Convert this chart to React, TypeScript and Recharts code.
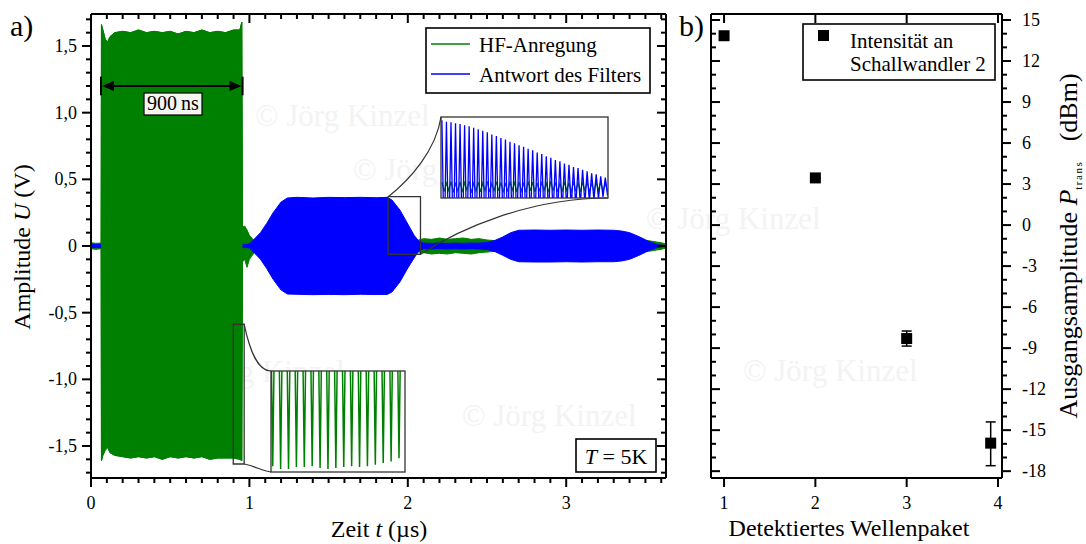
import React from 'react';
import {
  ComposedChart,
  Area,
  XAxis,
  YAxis,
  ReferenceArea,
  LineChart,
  Line,
  ScatterChart,
  Scatter,
  ErrorBar,
} from 'recharts';

const SERIF = '"Liberation Serif", "Times New Roman", serif';
const GREEN = '#008000';
const BLUE = '#0000ff';

// a) scope trace – envelopes of the excitation and the filter response (µs, V)
const timeUs = [
  0, 0.03, 0.064, 0.066, 0.075, 0.09, 0.105, 0.12, 0.15, 0.2, 0.25, 0.3, 0.35, 0.4, 0.45, 0.5,
  0.55, 0.6, 0.65, 0.7, 0.75, 0.8, 0.85, 0.9, 0.94, 0.952, 0.956, 0.97, 0.985, 1.0, 1.03, 1.07,
  1.11, 1.15, 1.2, 1.24, 1.3, 1.4, 1.5, 1.6, 1.7, 1.8, 1.87, 1.9, 1.95, 2.0, 2.04, 2.07, 2.1,
  2.15, 2.2, 2.25, 2.3, 2.35, 2.4, 2.45, 2.5, 2.55, 2.6, 2.65, 2.7, 2.8, 2.9, 3.0, 3.1, 3.2, 3.3,
  3.35, 3.4, 3.46, 3.52, 3.57, 3.6, 3.63,
];
const hfUpper = [
  0.025, 0.02, 0.022, 1.66, 1.62, 1.55, 1.53, 1.57, 1.6, 1.61, 1.6, 1.62, 1.6, 1.61, 1.6, 1.61,
  1.59, 1.61, 1.6, 1.62, 1.6, 1.61, 1.6, 1.62, 1.62, 1.68, 0.14, 0.15, 0.12, 0.08, 0.04, 0.035,
  0.035, 0.035, 0.035, 0.035, 0.035, 0.035, 0.035, 0.035, 0.035, 0.035, 0.035, 0.035, 0.035,
  0.04, 0.04, 0.045, 0.055, 0.05, 0.06, 0.05, 0.055, 0.06, 0.05, 0.055, 0.045, 0.04, 0.04, 0.04,
  0.04, 0.04, 0.04, 0.04, 0.04, 0.04, 0.04, 0.04, 0.04, 0.04, 0.04, 0.03, 0.025, 0.015,
];
const hfLower = [
  -0.02, -0.025, -0.02, -1.61, -1.57, -1.53, -1.51, -1.55, -1.57, -1.58, -1.59, -1.58, -1.59,
  -1.58, -1.6, -1.58, -1.59, -1.58, -1.59, -1.58, -1.6, -1.59, -1.59, -1.59, -1.6, -1.61, -0.12,
  -0.1, -0.16, -0.1, -0.05, -0.035, -0.035, -0.035, -0.035, -0.035, -0.035, -0.035, -0.035,
  -0.035, -0.035, -0.035, -0.035, -0.035, -0.035, -0.04, -0.04, -0.045, -0.05, -0.06, -0.055,
  -0.06, -0.05, -0.055, -0.06, -0.05, -0.045, -0.04, -0.04, -0.04, -0.04, -0.04, -0.04, -0.04,
  -0.04, -0.04, -0.04, -0.04, -0.04, -0.04, -0.04, -0.03, -0.025, -0.015,
];
const filterUpper = [
  0.012, 0.012, 0.012, 0.012, 0.012, 0.012, 0.012, 0.012, 0.012, 0.012, 0.012, 0.012, 0.012,
  0.012, 0.012, 0.012, 0.012, 0.012, 0.012, 0.012, 0.012, 0.012, 0.012, 0.012, 0.012, 0.012,
  0.012, 0.012, 0.012, 0.015, 0.05, 0.1, 0.17, 0.25, 0.33, 0.36, 0.365, 0.36, 0.365, 0.363,
  0.365, 0.362, 0.365, 0.345, 0.27, 0.165, 0.08, 0.035, 0.022, 0.02, 0.022, 0.02, 0.022, 0.02,
  0.022, 0.022, 0.026, 0.042, 0.068, 0.1, 0.118, 0.12, 0.118, 0.12, 0.118, 0.12, 0.118, 0.112,
  0.1, 0.07, 0.035, 0.012, 0.006, 0.004,
];
const filterLower = [
  -0.012, -0.012, -0.012, -0.012, -0.012, -0.012, -0.012, -0.012, -0.012, -0.012, -0.012, -0.012,
  -0.012, -0.012, -0.012, -0.012, -0.012, -0.012, -0.012, -0.012, -0.012, -0.012, -0.012, -0.012,
  -0.012, -0.012, -0.012, -0.012, -0.012, -0.015, -0.05, -0.1, -0.17, -0.25, -0.33, -0.36,
  -0.362, -0.365, -0.363, -0.365, -0.362, -0.364, -0.363, -0.345, -0.27, -0.165, -0.09, -0.035,
  -0.02, -0.022, -0.02, -0.022, -0.02, -0.022, -0.02, -0.022, -0.026, -0.042, -0.07, -0.1,
  -0.118, -0.12, -0.12, -0.118, -0.12, -0.118, -0.118, -0.112, -0.1, -0.07, -0.035, -0.012,
  -0.006, -0.004,
];

// zoom windows on the trace (µs, V)
const burstWindow = { t0: 0.898, t1: 0.967, v0: -1.635, v1: -0.587 };
const decayWindow = { t0: 1.876, t1: 2.08, v0: -0.062, v1: 0.37 };

// inset values, one entry per oscillation
const burstTroughs = [
  -1.576, -1.604, -1.604, -1.583, -1.583, -1.576, -1.594, -1.604, -1.594, -1.583, -1.576, -1.583,
  -1.576, -1.56, -1.542, -1.526, -1.491,
];
const burstPeaks = [
  1.61, 1.62, 1.6, 1.61, 1.62, 1.6, 1.61, 1.62, 1.61, 1.6, 1.62, 1.61, 1.6, 1.61, 1.62, 1.6, 1.61,
  1.6,
];
const filterPeaks = [
  0.352, 0.345, 0.342, 0.336, 0.333, 0.326, 0.32, 0.313, 0.305, 0.296, 0.288, 0.277, 0.269, 0.258,
  0.25, 0.238, 0.23, 0.219, 0.211, 0.2, 0.192, 0.18, 0.173, 0.161, 0.153, 0.141, 0.134, 0.122,
  0.115, 0.103, 0.098, 0.088, 0.081, 0.07, 0.064, 0.053, 0.047,
];
const filterTroughs = [
  -0.355, -0.348, -0.344, -0.339, -0.334, -0.329, -0.322, -0.315, -0.307, -0.298, -0.29, -0.28,
  -0.27, -0.261, -0.251, -0.241, -0.231, -0.222, -0.212, -0.203, -0.193, -0.183, -0.174, -0.164,
  -0.154, -0.144, -0.135, -0.125, -0.116, -0.106, -0.099, -0.09, -0.082, -0.073, -0.065, -0.056,
  -0.049,
];
const crosstalkHigh = [
  0.022, 0.018, 0.026, 0.015, 0.024, 0.02, 0.028, 0.017, 0.023, 0.019, 0.027, 0.016, 0.025,
  0.021, 0.018, 0.026, 0.02, 0.024, 0.015, 0.027, 0.022, 0.019, 0.025, 0.017, 0.028, 0.021,
  0.016, 0.024, 0.02, 0.026, 0.018, 0.023, 0.027, 0.019, 0.022, 0.025, 0.02,
];
const crosstalkLow = [
  -0.028, -0.022, -0.032, -0.025, -0.03, -0.02, -0.034, -0.026, -0.029, -0.023, -0.031, -0.027,
  -0.024, -0.033, -0.028, -0.021, -0.03, -0.026, -0.032, -0.024, -0.029, -0.027, -0.022, -0.031,
  -0.025, -0.03, -0.028, -0.023, -0.033, -0.026, -0.029, -0.024, -0.031, -0.027, -0.022, -0.03,
  -0.028,
];

// b) output amplitude per detected wave packet
const wavePacket = [1, 2, 3, 3.92];
const outputDbm = [13.85, 3.45, -8.3, -15.95];
const errBelow = [0, 0, 0.55, 1.65];
const errAbove = [0, 0, 0.55, 1.55];

// ticks
const timeMajor = [0, 1, 2, 3];
const voltMajor = [-1.5, -1, -0.5, 0, 0.5, 1, 1.5];
const dbmMajor = [-18, -15, -12, -9, -6, -3, 0, 3, 6, 9, 12, 15];
const packetTicks = [1, 2, 3, 4];
const timeTicks = Array.from({ length: 37 }, (_, i) => i / 10);
const voltTicks = Array.from({ length: 35 }, (_, i) => (i - 17) / 10);
const dbmTicks = Array.from({ length: 34 }, (_, i) => i - 18);

const isMajor = (majors: number[], v: number) => majors.some((m) => Math.abs(m - v) < 1e-6);
const fmtVolt = (v: number) => (v === 0 ? '0' : v.toFixed(1).replace('.', ','));

// plot geometry (page pixels) of both panels, used for the overlay drawings
const A = { left: 91, top: 14, width: 575, height: 464, x0: 0, x1: 3.63, y0: -1.74, y1: 1.74 };
const ax = (t: number) => A.left + ((t - A.x0) / (A.x1 - A.x0)) * A.width;
const ay = (v: number) => A.top + ((A.y1 - v) / (A.y1 - A.y0)) * A.height;
const B = { left: 711, top: 14, width: 291, height: 464, x0: 0.857, x1: 4.044, y0: -18.5, y1: 15.44 };
const bx = (w: number) => B.left + ((w - B.x0) / (B.x1 - B.x0)) * B.width;
const by = (p: number) => B.top + ((B.y1 - p) / (B.y1 - B.y0)) * B.height;

const INSET_BURST = { left: 271, top: 371, width: 134, height: 101 };
const INSET_DECAY = { left: 441, top: 117, width: 167, height: 81 };

const WATERMARKS: [number, number][] = [
  [255, 126], [353, 180], [646, 229], [462, 426], [743, 381], [170, 382],
];

const TICK_W = 2;

function AxisTick(props: any) {
  const { x, y, payload, side, majors, fmt } = props;
  const v = payload.value as number;
  const major = isMajor(majors, v);
  const len = major ? 9 : 5;
  let x2 = x;
  let y2 = y;
  if (side === 'bottom') y2 = y + len;
  if (side === 'left') x2 = x - len;
  if (side === 'right') x2 = x + len;
  let label = null;
  if (major && fmt) {
    const common = { fontFamily: 'Liberation Serif', fontSize: 18, fill: '#000' };
    if (side === 'bottom')
      label = <text x={x} y={y + 31} textAnchor="middle" {...common}>{fmt(v)}</text>;
    if (side === 'left')
      label = <text x={x - 14} y={y + 6} textAnchor="end" {...common}>{fmt(v)}</text>;
    if (side === 'right')
      label = <text x={x + 20} y={y + 6} textAnchor="start" {...common}>{fmt(v)}</text>;
  }
  return (
    <g>
      <line x1={x} y1={y} x2={x2} y2={y2} stroke="#000" strokeWidth={TICK_W} />
      {label}
    </g>
  );
}

const axisCommon = {
  tickLine: false,
  tickSize: 0,
  tickMargin: 0,
  interval: 0 as const,
  allowDataOverflow: true,
  axisLine: { stroke: '#000', strokeWidth: 2 },
};

export default function App() {
  const traceRows = timeUs.map((t, i) => ({
    t,
    hf: [hfLower[i], hfUpper[i]],
    burst: t >= 0.064 && t <= 0.956 ? [hfLower[i], hfUpper[i]] : null,
    filter: [filterLower[i], filterUpper[i]],
  }));

  const burstRows: { k: number; v: number }[] = [];
  burstPeaks.forEach((p, i) => {
    burstRows.push({ k: i - 0.5, v: p });
    if (i < burstTroughs.length) burstRows.push({ k: i, v: burstTroughs[i] });
  });

  const decayRows: { k: number; blue: number; green: number }[] = [];
  filterPeaks.forEach((p, i) => {
    decayRows.push({ k: i, blue: p, green: crosstalkHigh[i] });
    decayRows.push({ k: i + 0.5, blue: filterTroughs[i], green: crosstalkLow[i] });
  });

  const packetRows = wavePacket.map((w, i) => ({
    w,
    p: outputDbm[i],
    err: [errBelow[i], errAbove[i]],
  }));

  const bx1 = ax(burstWindow.t1);
  const byTop = ay(burstWindow.v1);
  const byBot = ay(burstWindow.v0);
  const dx0 = ax(decayWindow.t0);
  const dx1 = ax(decayWindow.t1);
  const dyTop = ay(decayWindow.v1);
  const dyBot = ay(decayWindow.v0);
  const IB = INSET_BURST;
  const ID = INSET_DECAY;

  const arrowY = ay(1.2);
  const arrL = ax(0.063);
  const arrR = ax(0.957);

  return (
    <div
      style={{
        position: 'absolute',
        left: 0,
        top: 0,
        width: 1086,
        height: 544,
        background: '#fff',
        fontFamily: SERIF,
      }}
    >
      {/* watermark layer */}
      <svg width={1086} height={544} style={{ position: 'absolute', left: 0, top: 0 }}>
        {WATERMARKS.map(([x, y], i) => (
          <text key={i} x={x} y={y} fontFamily="Liberation Serif" fontSize={31} fill="#f3f3f3">
            © Jörg Kinzel
          </text>
        ))}
      </svg>

      {/* a) */}
      <div style={{ position: 'absolute', left: 0, top: 0 }}>
        <ComposedChart
          width={700}
          height={544}
          data={traceRows}
          margin={{ top: 4, right: 24, bottom: 26, left: 41 }}
        >
          <XAxis
            xAxisId="bottom"
            dataKey="t"
            type="number"
            orientation="bottom"
            domain={[A.x0, A.x1]}
            ticks={timeTicks}
            height={40}
            {...axisCommon}
            tick={(p: any) => (
              <AxisTick {...p} side="bottom" majors={timeMajor} fmt={(v: number) => String(v)} />
            )}
          />
          <XAxis xAxisId="top" type="number" orientation="top" domain={[A.x0, A.x1]} height={10} {...axisCommon} tick={false} />
          <YAxis
            yAxisId="left"
            type="number"
            orientation="left"
            domain={[A.y0, A.y1]}
            ticks={voltTicks}
            width={50}
            {...axisCommon}
            tick={(p: any) => <AxisTick {...p} side="left" majors={voltMajor} fmt={fmtVolt} />}
          />
          <YAxis yAxisId="right" type="number" orientation="right" domain={[A.y0, A.y1]} width={10} {...axisCommon} tick={false} />
          <Area
            xAxisId="bottom"
            yAxisId="left"
            dataKey="hf"
            type="linear"
            stroke={GREEN}
            strokeWidth={1}
            fill={GREEN}
            fillOpacity={1}
            dot={false}
            activeDot={false}
            isAnimationActive={false}
          />
          <Area
            xAxisId="bottom"
            yAxisId="left"
            dataKey="filter"
            type="linear"
            stroke={BLUE}
            strokeWidth={1}
            fill={BLUE}
            fillOpacity={1}
            dot={false}
            activeDot={false}
            isAnimationActive={false}
          />
          <Area
            xAxisId="bottom"
            yAxisId="left"
            dataKey="burst"
            type="linear"
            stroke={GREEN}
            strokeWidth={1}
            fill={GREEN}
            fillOpacity={1}
            dot={false}
            activeDot={false}
            isAnimationActive={false}
          />
          <ReferenceArea
            xAxisId="bottom"
            yAxisId="left"
            x1={burstWindow.t0}
            x2={burstWindow.t1}
            y1={burstWindow.v0}
            y2={burstWindow.v1}
            fill="none"
            fillOpacity={0}
            stroke="#333"
            strokeWidth={1.3}
          />
          <ReferenceArea
            xAxisId="bottom"
            yAxisId="left"
            x1={decayWindow.t0}
            x2={decayWindow.t1}
            y1={decayWindow.v0}
            y2={decayWindow.v1}
            fill="none"
            fillOpacity={0}
            stroke="#333"
            strokeWidth={1.3}
          />
        </ComposedChart>
      </div>

      {/* inset: end of the excitation burst */}
      <div
        style={{
          position: 'absolute',
          left: IB.left,
          top: IB.top,
          width: IB.width,
          height: IB.height,
          background: '#fff',
        }}
      >
        <LineChart width={IB.width} height={IB.height} data={burstRows} margin={{ top: 0, right: 0, bottom: 0, left: 0 }}>
          <XAxis dataKey="k" type="number" domain={[-0.22, 16.76]} hide allowDataOverflow />
          <YAxis type="number" domain={[burstWindow.v0, burstWindow.v1]} hide allowDataOverflow />
          <Line dataKey="v" type="linear" stroke={GREEN} strokeWidth={1.5} dot={false} isAnimationActive={false} />
        </LineChart>
      </div>

      {/* inset: decay of the filter response */}
      <div
        style={{
          position: 'absolute',
          left: ID.left,
          top: ID.top,
          width: ID.width,
          height: ID.height,
          background: '#fff',
        }}
      >
        <LineChart width={ID.width} height={ID.height} data={decayRows} margin={{ top: 0, right: 0, bottom: 0, left: 0 }}>
          <XAxis dataKey="k" type="number" domain={[-0.2, 36.6]} hide allowDataOverflow />
          <YAxis type="number" domain={[decayWindow.v0, decayWindow.v1]} hide allowDataOverflow />
          <Line dataKey="green" type="linear" stroke={GREEN} strokeWidth={1.2} dot={false} isAnimationActive={false} />
          <Line dataKey="blue" type="linear" stroke={BLUE} strokeWidth={1.3} dot={false} isAnimationActive={false} />
        </LineChart>
      </div>

      {/* b) */}
      <div style={{ position: 'absolute', left: 700, top: 0 }}>
        <ScatterChart width={386} height={544} margin={{ top: 4, right: 24, bottom: 26, left: 1 }}>
          <XAxis
            xAxisId="bottom"
            dataKey="w"
            type="number"
            orientation="bottom"
            domain={[B.x0, B.x1]}
            ticks={packetTicks}
            height={40}
            {...axisCommon}
            tick={(p: any) => (
              <AxisTick {...p} side="bottom" majors={packetTicks} fmt={(v: number) => String(v)} />
            )}
          />
          <XAxis xAxisId="top" type="number" orientation="top" domain={[B.x0, B.x1]} height={10} {...axisCommon} tick={false} />
          <YAxis yAxisId="left" type="number" orientation="left" domain={[B.y0, B.y1]} width={10} {...axisCommon} tick={false} />
          <YAxis
            yAxisId="right"
            dataKey="p"
            type="number"
            orientation="right"
            domain={[B.y0, B.y1]}
            ticks={dbmTicks}
            width={60}
            {...axisCommon}
            tick={(p: any) => (
              <AxisTick {...p} side="right" majors={dbmMajor} fmt={(v: number) => String(v)} />
            )}
          />
          <Scatter
            xAxisId="bottom"
            yAxisId="right"
            data={packetRows}
            dataKey="p"
            fill="#000"
            isAnimationActive={false}
            shape={(s: any) => <rect x={s.cx - 5.5} y={s.cy - 5.5} width={11} height={11} fill="#000" />}
          >
            <ErrorBar dataKey="err" direction="y" width={5} stroke="#000" strokeWidth={1.5} isAnimationActive={false} />
          </Scatter>
        </ScatterChart>
      </div>

      {/* annotations */}
      <svg
        width={1086}
        height={544}
        style={{ position: 'absolute', left: 0, top: 0, pointerEvents: 'none' }}
        fontFamily="Liberation Serif"
      >
        {/* inward ticks on the mirrored frame sides */}
        {timeTicks.map((t) => (
          <line key={`at${t}`} x1={ax(t)} x2={ax(t)} y1={A.top} y2={A.top + (isMajor(timeMajor, t) ? 9 : 5)} stroke="#000" strokeWidth={TICK_W} />
        ))}
        {voltTicks.map((v) => (
          <line key={`ar${v}`} x1={A.left + A.width} x2={A.left + A.width - (isMajor(voltMajor, v) ? 9 : 5)} y1={ay(v)} y2={ay(v)} stroke="#000" strokeWidth={TICK_W} />
        ))}
        {packetTicks.map((w) => (
          <line key={`bt${w}`} x1={bx(w)} x2={bx(w)} y1={B.top} y2={B.top + 9} stroke="#000" strokeWidth={TICK_W} />
        ))}
        {dbmTicks.map((p) => (
          <line key={`bl${p}`} x1={B.left} x2={B.left + (isMajor(dbmMajor, p) ? 9 : 5)} y1={by(p)} y2={by(p)} stroke="#000" strokeWidth={TICK_W} />
        ))}

        <text x={10} y={36} fontSize={30}>a)</text>
        <text x={679} y={36} fontSize={30}>b)</text>

        {/* inset frames and connectors */}
        <rect x={IB.left} y={IB.top} width={IB.width} height={IB.height} fill="none" stroke="#333" strokeWidth={1.3} />
        <rect x={ID.left} y={ID.top} width={ID.width} height={ID.height} fill="none" stroke="#333" strokeWidth={1.3} />
        <path
          d={`M ${bx1} ${byTop} C ${bx1 + 6} ${byTop + 28} ${IB.left - 13} ${IB.top} ${IB.left} ${IB.top}`}
          fill="none"
          stroke="#333"
          strokeWidth={1.2}
        />
        <path
          d={`M ${bx1} ${byBot} C ${bx1 + 11} ${byBot + 2} ${IB.left - 9} ${IB.top + IB.height - 1} ${IB.left} ${IB.top + IB.height}`}
          fill="none"
          stroke="#333"
          strokeWidth={1.2}
        />
        <path
          d={`M ${dx0} ${dyTop} C ${dx0 + 22} ${dyTop - 17} ${ID.left - 5} ${ID.top + 33} ${ID.left} ${ID.top}`}
          fill="none"
          stroke="#333"
          strokeWidth={1.2}
        />
        <path
          d={`M ${dx1} ${dyBot} C ${dx1 + 40} ${dyBot - 26} ${ID.left + ID.width - 78} ${ID.top + ID.height} ${ID.left + ID.width} ${ID.top + ID.height}`}
          fill="none"
          stroke="#333"
          strokeWidth={1.2}
        />

        {/* 900 ns marker */}
        <line x1={arrL} y1={ay(1.27)} x2={arrL} y2={ay(1.13)} stroke="#000" strokeWidth={2} />
        <line x1={arrR} y1={ay(1.27)} x2={arrR} y2={ay(1.13)} stroke="#000" strokeWidth={2} />
        <line x1={arrL + 8} y1={arrowY} x2={arrR - 8} y2={arrowY} stroke="#000" strokeWidth={2} />
        <polygon points={`${arrL + 1},${arrowY} ${arrL + 13},${arrowY - 5} ${arrL + 13},${arrowY + 5}`} fill="#000" />
        <polygon points={`${arrR - 1},${arrowY} ${arrR - 13},${arrowY - 5} ${arrR - 13},${arrowY + 5}`} fill="#000" />
        <rect x={144} y={93} width={58} height={22} fill="#f4f4f0" stroke="#000" strokeWidth={1.2} />
        <text x={173} y={110} fontSize={20} textAnchor="middle">900{'\u2009'}ns</text>

        {/* legend a */}
        <rect x={426} y={28} width={224} height={65} fill="#fff" stroke="#000" strokeWidth={1.6} />
        <line x1={431} y1={44} x2={470} y2={44} stroke={GREEN} strokeWidth={1.5} />
        <line x1={431} y1={74} x2={470} y2={74} stroke={BLUE} strokeWidth={1.5} />
        <text x={479} y={52} fontSize={21}>HF-Anregung</text>
        <text x={479} y={82} fontSize={21}>Antwort des Filters</text>

        {/* temperature */}
        <rect x={576} y={439} width={80} height={33} fill="#fff" stroke="#000" strokeWidth={1.6} />
        <text x={616} y={464} fontSize={22} textAnchor="middle">
          <tspan fontStyle="italic">T</tspan> = 5K
        </text>

        {/* legend b */}
        <rect x={803} y={24} width={192} height={56} fill="#fff" stroke="#000" strokeWidth={1.6} />
        <rect x={818} y={30} width={11} height={11} fill="#000" />
        <text x={850} y={48} fontSize={21}>Intensität an</text>
        <text x={850} y={71} fontSize={21}>Schallwandler 2</text>

        {/* axis titles */}
        <text x={379} y={537} fontSize={24} textAnchor="middle">
          Zeit <tspan fontStyle="italic">t</tspan> (µs)
        </text>
        <text x={849} y={536} fontSize={24} textAnchor="middle">Detektiertes Wellenpaket</text>
        <text x={30} y={247} fontSize={24} textAnchor="middle" transform="rotate(-90 30 247)">
          Amplitude <tspan fontStyle="italic">U</tspan> (V)
        </text>
        <text x={1077} y={246} fontSize={26} textAnchor="middle" transform="rotate(-90 1077 246)">
          Ausgangsamplitude <tspan fontStyle="italic">P</tspan>
          <tspan fontSize={11} dy={5} letterSpacing={1.5}>trans</tspan>
          <tspan dy={-5}>{'\u00a0\u00a0\u00a0'}(dBm)</tspan>
        </text>
      </svg>
    </div>
  );
}
